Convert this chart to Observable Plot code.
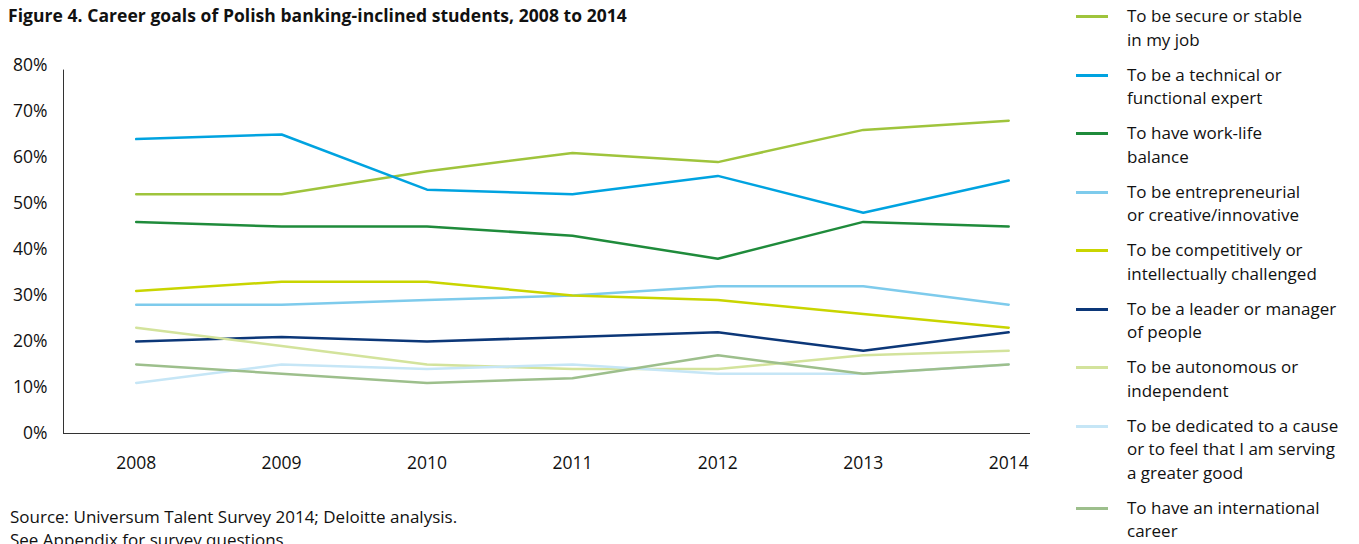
<!DOCTYPE html>
<html>
<head>
<meta charset="utf-8">
<script src="https://cdn.jsdelivr.net/npm/d3@7"></script>
<script src="https://cdn.jsdelivr.net/npm/@observablehq/plot@0.6"></script>
<style>
  html, body { margin: 0; padding: 0; background: #fff; }
  body { font-family: "Open Sans", "Noto Sans", sans-serif; color: #111; }
  #wrap { position: relative; width: 1359px; height: 544px; overflow: hidden; }
  #title { position: absolute; left: 8px; top: 3px; font-size: 17.5px; font-weight: bold; letter-spacing: 0.05px; }
  #chart { position: absolute; left: 0; top: 0; }
  #legend { position: absolute; left: 1076px; top: 4px; width: 283px; }
  .item { position: relative; padding-left: 51px; font-size: 17px; line-height: 23.5px; }
  .sw { position: absolute; left: 0; top: 11px; width: 32px; height: 3px; }
  #source { position: absolute; left: 10px; top: 505px; font-size: 17px; line-height: 23px; }
</style>
</head>
<body>
<div id="wrap">
  <div id="chart"></div>
  <div id="title"></div>
  <div id="legend"></div>
  <div id="source"></div>
</div>
<script>
const titleText = "Figure 4. Career goals of Polish banking-inclined students, 2008 to 2014";
const sourceLines = ["Source: Universum Talent Survey 2014; Deloitte analysis.", "See Appendix for survey questions"];
const years = [2008, 2009, 2010, 2011, 2012, 2013, 2014];
const yTicks = [0, 10, 20, 30, 40, 50, 60, 70, 80];

const seriesNames = [
  "To be secure or stable in my job",
  "To be a technical or functional expert",
  "To have work-life balance",
  "To be entrepreneurial or creative/innovative",
  "To be competitively or intellectually challenged",
  "To be a leader or manager of people",
  "To be autonomous or independent",
  "To be dedicated to a cause or to feel that I am serving a greater good",
  "To have an international career"
];
const legendLines = [
  ["To be secure or stable", "in my job"],
  ["To be a technical or", "functional expert"],
  ["To have work-life", "balance"],
  ["To be entrepreneurial", "or creative/innovative"],
  ["To be competitively or", "intellectually challenged"],
  ["To be a leader or manager", "of people"],
  ["To be autonomous or", "independent"],
  ["To be dedicated to a cause", "or to feel that I am serving", "a greater good"],
  ["To have an international", "career"]
];
const seriesColors = ["#9fc43c", "#00a3e0", "#1f8b3b", "#7ecbec", "#c9d500", "#0c3778", "#d3e39c", "#c6e6f6", "#9dbf8c"];

const secure        = [52, 52, 57, 61, 59, 66, 68];
const technical     = [64, 65, 53, 52, 56, 48, 55];
const workLife      = [46, 45, 45, 43, 38, 46, 45];
const entrepreneur  = [28, 28, 29, 30, 32, 32, 28];
const competitive   = [31, 33, 33, 30, 29, 26, 23];
const leader        = [20, 21, 20, 21, 22, 18, 22];
const autonomous    = [23, 19, 15, 14, 14, 17, 18];
const dedicated     = [11, 15, 14, 15, 13, 13, 15];
const international = [15, 13, 11, 12, 17, 13, 15];

const seriesValues = [secure, technical, workLife, entrepreneur, competitive, leader, autonomous, dedicated, international];

const rows = [];
seriesNames.forEach((name, i) => {
  years.forEach((yr, j) => rows.push({series: name, year: yr, value: seriesValues[i][j]}));
});

const xDomain = [2007.5, 2014.15];

const chart = Plot.plot({
  width: 1050,
  height: 490,
  marginTop: 65,
  marginBottom: 57,
  marginLeft: 63,
  marginRight: 20,
  style: {fontFamily: "'Open Sans', 'Noto Sans', sans-serif", fontSize: "17.5px", color: "#111", background: "transparent", overflow: "visible"},
  x: {domain: xDomain, ticks: years, tickFormat: d => String(d), tickSize: 0, tickPadding: 23, label: null},
  y: {domain: [0, 80], ticks: yTicks, tickFormat: d => d + "%", tickSize: 0, tickPadding: 16, label: null},
  color: {domain: seriesNames, range: seriesColors},
  marks: [
    Plot.ruleY([0], {stroke: "#333", strokeWidth: 1}),
    Plot.ruleX([xDomain[0]], {y1: 0, y2: 79, stroke: "#333", strokeWidth: 1}),
    Plot.line(rows, {x: "year", y: "value", z: "series", stroke: "series", strokeWidth: 2.5, curve: "linear"})
  ]
});
document.getElementById("chart").appendChild(chart);

document.getElementById("title").textContent = titleText;
document.getElementById("source").innerHTML = sourceLines.map(s => `<div>${s}</div>`).join("");

const legend = document.getElementById("legend");
seriesNames.forEach((name, i) => {
  const it = document.createElement("div");
  it.className = "item";
  it.style.marginBottom = "11.5px";
  it.innerHTML = `<span class="sw" style="background:${seriesColors[i]}"></span>` + legendLines[i].map(l => `<div>${l}</div>`).join("");
  legend.appendChild(it);
});
</script>
</body>
</html>
